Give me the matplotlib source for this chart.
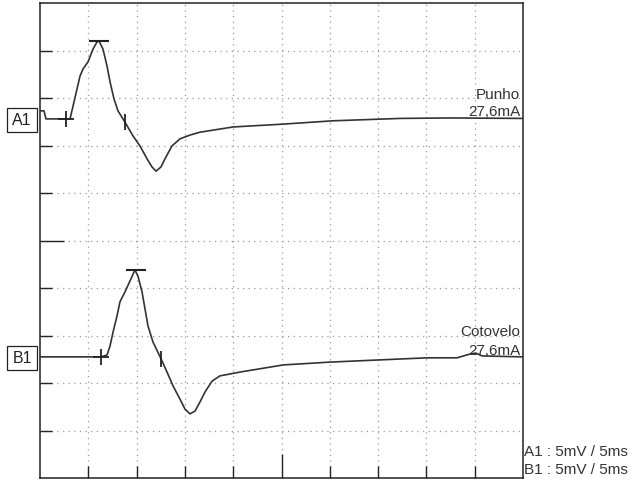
import numpy as np
import matplotlib.pyplot as plt

plt.rcParams['font.family'] = ['Liberation Sans', 'DejaVu Sans']

# trace A1 (punho): time in ms, amplitude in divisions (5 mV/div)
a1_t = [0.0, 0.41, 0.62, 2.69, 3.11, 3.42, 3.83, 4.14, 4.45, 4.97, 5.49, 5.90,
        6.11, 6.52, 6.94, 7.25, 7.66, 8.07, 8.80, 9.63, 10.35, 11.08, 11.59,
        12.01, 12.53, 12.94, 13.66, 14.49, 15.53, 16.56, 19.98, 25.16, 30.33,
        37.27, 42.44, 50.0]
a1_v = [7.73, 7.73, 7.56, 7.56, 7.56, 7.83, 8.19, 8.46, 8.61, 8.76, 9.03, 9.18,
        9.20, 9.03, 8.67, 8.34, 7.98, 7.73, 7.49, 7.20, 6.99, 6.72, 6.55,
        6.46, 6.55, 6.72, 6.99, 7.14, 7.22, 7.28, 7.39, 7.45, 7.52,
        7.57, 7.58, 7.57]

# trace B1 (cotovelo)
b1_t = [0.0, 6.31, 6.94, 7.25, 7.56, 7.97, 8.28, 8.80, 9.32, 9.83, 10.14,
        10.56, 10.87, 11.18, 11.70, 12.53, 13.15, 13.77, 14.49, 15.01, 15.53,
        16.05, 16.56, 17.08, 17.81, 18.63, 19.67, 20.70, 25.16, 30.02, 40.06,
        43.17, 44.51, 45.10, 45.76, 50.0]
b1_v = [2.55, 2.55, 2.59, 2.78, 3.07, 3.41, 3.71, 3.92, 4.15, 4.38, 4.25,
        3.92, 3.56, 3.20, 2.86, 2.51, 2.23, 1.94, 1.66, 1.45, 1.35,
        1.41, 1.60, 1.81, 2.04, 2.15, 2.19, 2.23, 2.38, 2.44, 2.53,
        2.53, 2.61, 2.63, 2.57, 2.55]

# cursor markers: onset, peak, end
a1_marks = [(2.69, 7.56), (6.11, 9.20), (8.80, 7.49)]
b1_marks = [(6.31, 2.55), (9.94, 4.38), (12.53, 2.51)]

labels = ['A1', 'B1']
sites = ['Punho', 'Cotovelo']
current = '27,6mA'
scale_txt = ['A1 : 5mV / 5ms', 'B1 : 5mV / 5ms']

fig = plt.figure(figsize=(6.33, 4.85), dpi=100)
ax = fig.add_axes([40/633, 6/485, 483/633, 475/485])
ax.set_xlim(0, 50)
ax.set_ylim(0, 10)

# grid
xs = np.arange(0, 51, 5)
ys = np.arange(0, 11, 1)
for x in xs[1:-1]:
    ax.axvline(x, color='#9a9a9a', lw=0.9, ls=(0, (1, 3.5)), zorder=1)
for y in ys[1:-1]:
    ax.axhline(y, color='#9a9a9a', lw=0.9, ls=(0, (1, 3.5)), zorder=1)

# ticks: long one in the middle, short ones elsewhere
ax.set_xticks([25])
ax.set_xticks([x for x in xs[1:-1] if x != 25], minor=True)
ax.set_yticks([5])
ax.set_yticks([y for y in ys[1:-1] if y != 5], minor=True)
ax.tick_params(which='major', direction='in', length=17, width=1, color='#222222',
               labelbottom=False, labelleft=False)
ax.tick_params(which='minor', direction='in', length=8.5, width=1, color='#222222')
for s in ax.spines.values():
    s.set_linewidth(1.1)
    s.set_color('#222222')

trace_col = '#333333'
ax.plot(a1_t, a1_v, color=trace_col, lw=1.2, zorder=3, solid_joinstyle='round')
ax.plot(b1_t, b1_v, color=trace_col, lw=1.2, zorder=3, solid_joinstyle='round')

for marks in [a1_marks, b1_marks]:
    ax.plot(*marks[0], marker='+', ms=12, mew=1.3, color='#222222', zorder=4)
    ax.plot(*marks[1], marker='_', ms=14, mew=1.5, color='#222222', zorder=4)
    ax.plot(*marks[2], marker='|', ms=12, mew=1.3, color='#222222', zorder=4)

# channel boxes
box = dict(boxstyle='square,pad=0.3', fc='white', ec='#222222', lw=0.9)
ax.text(-1.86, 7.54, labels[0], ha='center', va='center', fontsize=11.5,
        color='#222222', bbox=box, clip_on=False)
ax.text(-1.86, 2.53, labels[1], ha='center', va='center', fontsize=11.5,
        color='#222222', bbox=box, clip_on=False)

# site labels
fs = 11
ax.text(49.7, 8.08, sites[0], ha='right', va='center', fontsize=fs, color='#333333')
ax.text(49.7, 7.73, current, ha='right', va='center', fontsize=fs, color='#333333')
ax.text(49.7, 3.09, sites[1], ha='right', va='center', fontsize=fs, color='#333333')
ax.text(49.7, 2.69, current, ha='right', va='center', fontsize=fs, color='#333333')

fig.text(524/633, 1 - 452/485, scale_txt[0], ha='left', va='center', fontsize=fs,
         color='#333333')
fig.text(524/633, 1 - 470/485, scale_txt[1], ha='left', va='center', fontsize=fs,
         color='#333333')

fig.savefig('out.png', dpi=100, facecolor='white')
